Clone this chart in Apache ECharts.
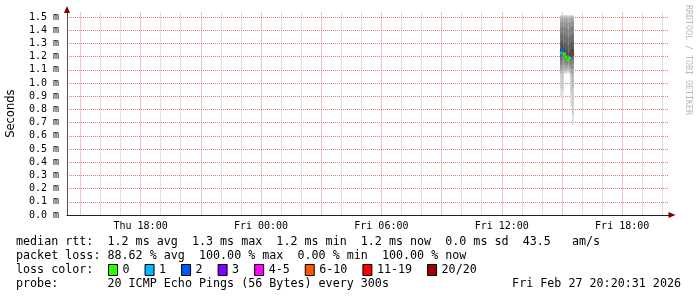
<!DOCTYPE html>
<html><head><meta charset="utf-8">
<script src="https://cdn.jsdelivr.net/npm/echarts@6/dist/echarts.min.js"></script>
<style>html,body{margin:0;padding:0;background:#fff}#c{width:697px;height:297px}</style>
</head><body><div id="c"></div>
<script>
// time in minutes since Thu 00:00
const xMin = 860;   // Thu 14:20
const xMax = 2660;  // Fri 20:20
const stepMin = 5;
const sampleTimes = [2335, 2340, 2345, 2350, 2355, 2360, 2365, 2370];
// 20 sorted ping RTTs (ms) per sample
const smokeS0 = [0.886,0.96,1.07,1.09,1.11,1.14,1.17,1.20,1.215,1.225,1.23,1.26,1.31,1.37,1.42,1.46,1.49,1.505,1.51,1.515];
const smokeS1 = [0.89,0.95,1.07,1.10,1.13,1.17,1.21,1.235,1.25,1.255,1.26,1.29,1.33,1.38,1.43,1.47,1.49,1.505,1.51,1.515];
const smokeS2 = [1.07,1.08,1.09,1.11,1.14,1.17,1.195,1.21,1.215,1.218,1.222,1.25,1.30,1.36,1.42,1.46,1.49,1.505,1.51,1.515];
const smokeS3 = [1.07,1.08,1.09,1.11,1.13,1.15,1.17,1.185,1.19,1.195,1.20,1.24,1.30,1.36,1.42,1.46,1.49,1.50,1.51,1.515];
const smokeS4 = [1.08,1.09,1.10,1.12,1.135,1.15,1.16,1.17,1.172,1.174,1.176,1.21,1.27,1.34,1.40,1.45,1.48,1.50,1.51,1.515];
const smokeS5 = [1.07,1.08,1.09,1.11,1.13,1.15,1.17,1.18,1.188,1.19,1.192,1.23,1.29,1.35,1.41,1.46,1.49,1.50,1.51,1.515];
const smokeS6 = [0.82,0.92,1.05,1.08,1.11,1.14,1.17,1.19,1.205,1.21,1.215,1.25,1.30,1.36,1.42,1.46,1.49,1.505,1.51,1.515];
const smokeS7 = [0.68,0.76,0.96,1.07,1.11,1.15,1.18,1.20,1.215,1.22,1.225,1.26,1.31,1.37,1.43,1.47,1.49,1.505,1.51,1.515];
const smokeRows = [smokeS0, smokeS1, smokeS2, smokeS3, smokeS4, smokeS5, smokeS6, smokeS7];
const medians = [1.227, 1.258, 1.22, 1.197, 1.174, 1.19, 1.21, 1.22];
const medianLoss = [1, 2, 0, 0, 0, 0, 2, 6];
const lossNames = ['0', '1', '2', '3', '4-5', '6-10', '11-19', '20/20'];
const lossColors = ['#26ff00', '#00b8ff', '#0059ff', '#7e00ff', '#ff00ff', '#ff5500', '#ff0000', '#a00000'];

const yTicks = [0, 0.1, 0.2, 0.3, 0.4, 0.5, 0.6, 0.7, 0.8, 0.9, 1.0, 1.1, 1.2, 1.3, 1.4, 1.5];
const yMax = 1.535;
// hourly minor grid (hours that are not on the 3-hour major grid)
const xMinorTicks = [960,1020,1140,1200,1320,1380,1500,1560,1680,1740,1860,1920,2040,2100,2220,2280,2400,2460,2580,2640];
const xMajorTicks = [900,1080,1260,1440,1620,1800,1980,2160,2340,2520];
const xLabelValues = [1080, 1440, 1800, 2160, 2520];
const xLabels = ['Thu 18:00', 'Fri 00:00', 'Fri 06:00', 'Fri 12:00', 'Fri 18:00'];

const line1 = 'median rtt:  1.2 ms avg  1.3 ms max  1.2 ms min  1.2 ms now  0.0 ms sd  43.5   am/s';
const line2 = 'packet loss: 88.62 % avg  100.00 % max  0.00 % min  100.00 % now';
const line3 = 'loss color:';
const line4 = 'probe:       20 ICMP Echo Pings (56 Bytes) every 300s';
const stamp = 'Fri Feb 27 20:20:31 2026';
const watermark = 'RRDTOOL / TOBI OETIKER';

const MONO = 'DejaVu Sans Mono';
const redGrid = '#e08c8c';
const redGridH = '#e37a7a';
const grayGrid = '#c0c0c0';

function smokeItem(params, api) {
  const t = api.value(0);
  const children = [];
  for (let k = 0; k < 10; k++) {
    const lo = api.value(1 + k), hi = api.value(20 - k);
    const a = api.coord([t, lo]);
    const b = api.coord([t + stepMin, hi]);
    const g = Math.round(190 * (9 - k) / 10 + 50);
    children.push({
      type: 'rect',
      shape: { x: a[0], y: b[1], width: b[0] - a[0], height: a[1] - b[1] },
      style: { fill: 'rgb(' + g + ',' + g + ',' + g + ')' }
    });
  }
  return { type: 'group', children: children };
}

function medianItem(params, api) {
  const t = api.value(0), v = api.value(1);
  const a = api.coord([t, v]);
  const b = api.coord([t + stepMin, v]);
  return {
    type: 'rect',
    shape: { x: a[0] - 0.5, y: a[1] - 1.5, width: b[0] - a[0] + 1, height: 3 },
    style: { fill: api.visual('color') }
  };
}

const series = [{
  type: 'custom', name: 'smoke', xAxisIndex: 1, yAxisIndex: 0, z: 3,
  renderItem: smokeItem, silent: true, clip: true,
  data: sampleTimes.map((t, i) => [t].concat(smokeRows[i]))
}];
lossNames.forEach((n, li) => {
  const d = [];
  sampleTimes.forEach((t, i) => { if (medianLoss[i] === li) d.push([t, medians[i]]); });
  series.push({
    type: 'custom', name: n, xAxisIndex: 1, yAxisIndex: 0,
    renderItem: medianItem, itemStyle: { color: lossColors[li] }, z: 5, data: d
  });
});

const chart = echarts.init(document.getElementById('c'), null, { renderer: 'canvas' });
chart.setOption({
  animation: false,
  backgroundColor: '#ffffff',
  tooltip: { show: false },
  grid: { left: 67, right: 28, top: 215 - 132 * yMax, height: 132 * yMax, containLabel: false, outerBoundsMode: 'none' },
  xAxis: [{
    type: 'value', min: xMin, max: xMax, position: 'bottom',
    axisLine: { show: true, onZero: false, symbol: ['none', 'triangle'], symbolSize: [6, 7], symbolOffset: [0, 3],
      lineStyle: { color: '#7f0000', width: 0 } },
    axisTick: { show: false, customValues: xMinorTicks },
    axisLabel: { show: false },
    splitLine: { show: true, lineStyle: { color: grayGrid, width: 1, type: 'dotted' } }
  }, {
    type: 'value', min: xMin, max: xMax, position: 'bottom', offset: 0,
    axisLine: { show: true, onZero: false, lineStyle: { color: '#1f1f1f', width: 1 } },
    axisTick: { show: false, customValues: xMajorTicks },
    axisLabel: { show: true, customValues: xLabelValues, margin: 6,
      fontFamily: MONO, fontSize: 10, color: '#000',
      formatter: v => { const i = xLabelValues.indexOf(Math.round(v)); return i >= 0 ? xLabels[i] : ''; } },
    splitLine: { show: true, lineStyle: { color: redGrid, width: 1, type: 'dotted' } }
  }],
  yAxis: [{
    type: 'value', min: 0, max: yMax, position: 'left',
    name: 'Seconds', nameLocation: 'middle', nameRotate: 90, nameGap: 50,
    nameTextStyle: { fontFamily: 'DejaVu Sans', fontSize: 11.5, color: '#000' },
    axisLine: { show: true, onZero: false, lineStyle: { color: '#505050', width: 1 } },
    axisTick: { show: false, customValues: yTicks },
    axisLabel: { show: true, customValues: yTicks, margin: 8, fontFamily: MONO, fontSize: 10, color: '#000',
      formatter: v => v.toFixed(1) + ' m' },
    splitLine: { show: true, lineStyle: { color: redGridH, width: 1, type: 'dotted' } }
  }, {
    type: 'value', min: 0, max: yMax, position: 'left', offset: 0,
    axisLine: { show: true, onZero: false, symbol: ['none', 'triangle'], symbolSize: [6, 7], symbolOffset: [0, 3],
      lineStyle: { color: '#7f0000', width: 0 } },
    axisTick: { show: false, customValues: yTicks },
    axisLabel: { show: false },
    splitLine: { show: false }
  }],
  legend: {
    data: lossNames.map((n, i) => ({ name: n, icon: 'rect', itemStyle: { color: lossColors[i], borderColor: '#000', borderWidth: 1 } })),
    left: 108, top: 264, itemWidth: 9, itemHeight: 11, itemGap: 15, padding: 0,
    selectedMode: false,
    textStyle: { fontFamily: MONO, fontSize: 11.7, color: '#000' }
  },
  graphic: [
    { type: 'text', x: 16, y: 241.5, style: { text: line1, fontFamily: MONO, fontSize: 11.7, fill: '#000', verticalAlign: 'middle' } },
    { type: 'text', x: 16, y: 255.5, style: { text: line2, fontFamily: MONO, fontSize: 11.7, fill: '#000', verticalAlign: 'middle' } },
    { type: 'text', x: 16, y: 269.5, style: { text: line3, fontFamily: MONO, fontSize: 11.7, fill: '#000', verticalAlign: 'middle' } },
    { type: 'text', x: 16, y: 283.5, style: { text: line4, fontFamily: MONO, fontSize: 11.7, fill: '#000', verticalAlign: 'middle' } },
    { type: 'text', x: 681, y: 283.5, style: { text: stamp, fontFamily: MONO, fontSize: 11.7, fill: '#000', align: 'right', verticalAlign: 'middle' } },
    { type: 'text', x: 688, y: 60, rotation: -Math.PI / 2, style: { text: watermark, fontFamily: MONO, fontSize: 8.3, fill: '#b8b8b8', align: 'center', verticalAlign: 'middle' } }
  ],
  series: series
});
</script></body></html>
